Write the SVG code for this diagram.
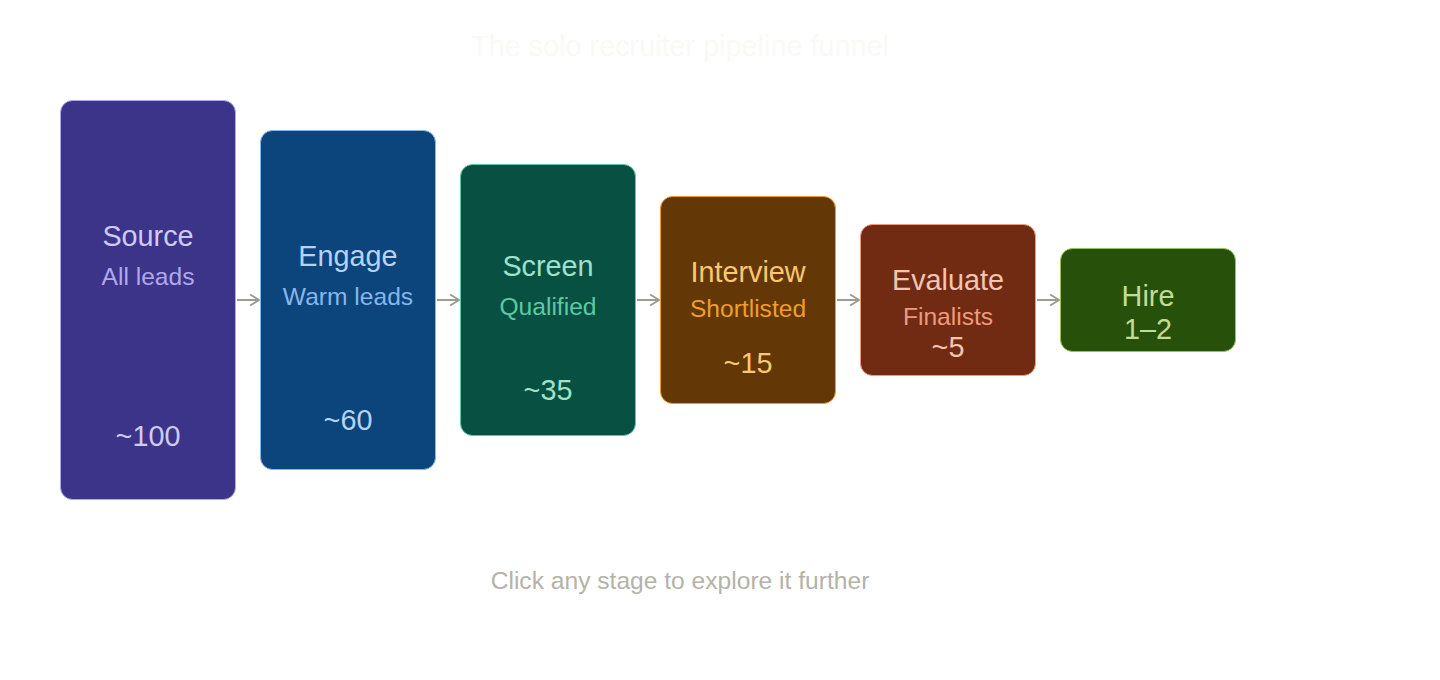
<svg xmlns="http://www.w3.org/2000/svg" width="1440" height="680" viewBox="0 0 1440 680">
<style>
text{font-family:"Liberation Sans",Arial,sans-serif;text-anchor:middle}
.t{font-size:28.8px}
.s{font-size:24.6px}
.c line{stroke:#9C9A92;stroke-width:2;fill:none}
.n rect{stroke-width:1}
</style>
<defs>
<marker id="ah" viewBox="0 0 12 12" refX="10" refY="6" markerWidth="12" markerHeight="12" markerUnits="userSpaceOnUse" orient="auto">
<path d="M2 1L10 6L2 11" fill="none" stroke="#9C9A92" stroke-width="2" stroke-linecap="round" stroke-linejoin="round"/>
</marker>
</defs>
<rect width="1440" height="680" fill="#ffffff"/>
<text x="680" y="56" class="t" fill="#FAF9F5">The solo recruiter pipeline funnel</text>
<g class="c">
<line x1="237" y1="300" x2="259" y2="300" marker-end="url(#ah)"/>
<line x1="437" y1="300" x2="459" y2="300" marker-end="url(#ah)"/>
<line x1="637" y1="300" x2="659" y2="300" marker-end="url(#ah)"/>
<line x1="837" y1="300" x2="859" y2="300" marker-end="url(#ah)"/>
<line x1="1037" y1="300" x2="1059" y2="300" marker-end="url(#ah)"/>
</g>
<g id="source" class="n">
<rect x="60.5" y="100.5" width="175" height="399" rx="12" fill="#3C3489" stroke="#AFA9EC"/>
<text x="148" y="246" class="t" fill="#CECBF6">Source</text>
<text x="148" y="285" class="s" fill="#AFA9EC">All leads</text>
<text x="148" y="446" class="t" fill="#CECBF6">~100</text>
</g>
<g id="engage" class="n">
<rect x="260.5" y="130.5" width="175" height="339" rx="12" fill="#0C447C" stroke="#85B7EB"/>
<text x="348" y="266" class="t" fill="#B5D4F4">Engage</text>
<text x="348" y="305" class="s" fill="#85B7EB">Warm leads</text>
<text x="348" y="430" class="t" fill="#B5D4F4">~60</text>
</g>
<g id="screen" class="n">
<rect x="460.5" y="164.5" width="175" height="271" rx="12" fill="#085041" stroke="#5DCAA5"/>
<text x="548" y="276" class="t" fill="#9FE1CB">Screen</text>
<text x="548" y="315" class="s" fill="#5DCAA5">Qualified</text>
<text x="548" y="400" class="t" fill="#9FE1CB">~35</text>
</g>
<g id="interview" class="n">
<rect x="660.5" y="196.5" width="175" height="207" rx="12" fill="#633806" stroke="#EF9F27"/>
<text x="748" y="282" class="t" fill="#FAC775">Interview</text>
<text x="748" y="317" class="s" fill="#EF9F27">Shortlisted</text>
<text x="748" y="373" class="t" fill="#FAC775">~15</text>
</g>
<g id="evaluate" class="n">
<rect x="860.5" y="224.5" width="175" height="151" rx="12" fill="#712B13" stroke="#F0997B"/>
<text x="948" y="290" class="t" fill="#F5C4B3">Evaluate</text>
<text x="948" y="325" class="s" fill="#F0997B">Finalists</text>
<text x="948" y="357" class="t" fill="#F5C4B3">~5</text>
</g>
<g id="hire" class="n">
<rect x="1060.5" y="248.5" width="175" height="103" rx="12" fill="#27500A" stroke="#97C459"/>
<text x="1148" y="306" class="t" fill="#C0DD97">Hire</text>
<text x="1148" y="339" class="t" fill="#C0DD97">1–2</text>
</g>
<text x="680" y="589" class="s" fill="#B4B2A9">Click any stage to explore it further</text>
</svg>
